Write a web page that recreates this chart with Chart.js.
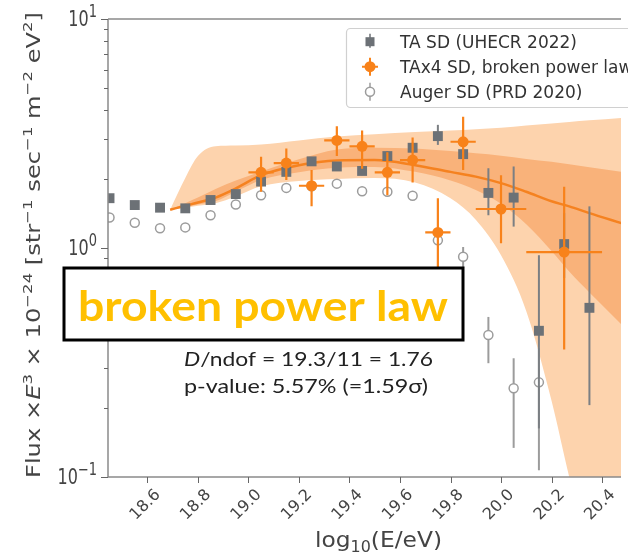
<!DOCTYPE html>
<html>
<head>
<meta charset="utf-8">
<script src="https://cdn.jsdelivr.net/npm/chart.js@4.4.1/dist/chart.umd.min.js"></script>
<style>
  html, body { margin: 0; padding: 0; background: #fff; }
</style>
</head>
<body>
<canvas id="chartFlux" width="628" height="560"></canvas>
<script>
// axis ticks
const xTicks = [18.6, 18.8, 19.0, 19.2, 19.4, 19.6, 19.8, 20.0, 20.2, 20.4]
const yTicks = [0.1, 1, 10]
const yTickExp = ['\u22121', '0', '1']

// TA SD (UHECR 2022)
const taE = [18.45, 18.55, 18.65, 18.75, 18.85, 18.95, 19.05, 19.15, 19.25, 19.35, 19.45, 19.55, 19.65, 19.75, 19.85, 19.95, 20.05, 20.15, 20.25, 20.35]
const taFlux = [1.65, 1.54, 1.50, 1.49, 1.62, 1.72, 1.95, 2.15, 2.39, 2.27, 2.17, 2.52, 2.74, 3.08, 2.57, 1.74, 1.66, 0.435, 1.04, 0.548]
const taLow = [1.62, 1.51, 1.47, 1.46, 1.59, 1.68, 1.90, 2.09, 2.32, 2.19, 2.08, 2.40, 2.60, 2.82, 2.45, 1.39, 1.24, 0.163, 0.74, 0.206]
const taHigh = [1.68, 1.57, 1.53, 1.52, 1.65, 1.76, 2.00, 2.21, 2.46, 2.35, 2.26, 2.64, 2.88, 3.45, 2.70, 2.23, 2.27, 0.93, 1.42, 1.52]

// TAx4 SD
const tax4E = [19.05, 19.15, 19.25, 19.35, 19.45, 19.55, 19.65, 19.75, 19.85, 20.0, 20.25]
const tax4HalfBin = [0.05, 0.05, 0.05, 0.05, 0.05, 0.05, 0.05, 0.05, 0.05, 0.1, 0.15]
const tax4Flux = [2.14, 2.35, 1.87, 2.95, 2.78, 2.14, 2.42, 1.17, 2.91, 1.48, 0.96]
const tax4Low = [1.76, 1.98, 1.52, 2.52, 2.22, 1.70, 1.93, 0.50, 2.19, 1.05, 0.36]
const tax4High = [2.50, 2.72, 2.19, 3.40, 3.26, 2.62, 3.04, 1.65, 3.74, 2.08, 1.85]

// Auger SD (PRD 2020)
const augerE = [18.45, 18.55, 18.65, 18.75, 18.85, 18.95, 19.05, 19.15, 19.25, 19.35, 19.45, 19.55, 19.65, 19.75, 19.85, 19.95, 20.05, 20.15]
const augerFlux = [1.36, 1.29, 1.22, 1.23, 1.39, 1.55, 1.70, 1.83, 1.86, 1.91, 1.77, 1.76, 1.69, 1.08, 0.916, 0.417, 0.244, 0.259]
const augerLow = [1.34, 1.27, 1.20, 1.21, 1.37, 1.53, 1.67, 1.80, 1.82, 1.87, 1.73, 1.71, 1.64, 1.03, 0.818, 0.314, 0.134, 0.107]
const augerHigh = [1.38, 1.31, 1.24, 1.25, 1.41, 1.57, 1.73, 1.86, 1.90, 1.95, 1.81, 1.81, 1.74, 1.13, 1.01, 0.50, 0.33, 0.365]

// broken power law fit with its two uncertainty bands
const fitE = [18.69, 18.75, 18.8, 18.87, 18.95, 19.05, 19.2, 19.35, 19.5, 19.66, 19.8, 19.9, 20.0, 20.1, 20.2, 20.27, 20.35, 20.48]
const fitFlux = [1.47, 1.53, 1.58, 1.66, 1.82, 2.08, 2.30, 2.41, 2.42, 2.30, 2.15, 2.05, 1.92, 1.76, 1.60, 1.52, 1.42, 1.28]
const innerUpper = [1.47, 1.57, 1.66, 1.81, 1.97, 2.16, 2.44, 2.69, 2.74, 2.72, 2.65, 2.59, 2.53, 2.45, 2.38, 2.32, 2.25, 2.15]
const innerLower = [1.47, 1.51, 1.55, 1.60, 1.76, 1.98, 2.14, 2.24, 2.26, 2.15, 1.97, 1.79, 1.56, 1.27, 0.97, 0.79, 0.64, 0.46]
const outerUpper = [1.47, 2.02, 2.52, 2.78, 2.80, 2.83, 2.95, 3.07, 3.14, 3.21, 3.26, 3.30, 3.35, 3.43, 3.50, 3.55, 3.61, 3.70]
const outerLower = [1.47, 1.50, 1.53, 1.57, 1.68, 1.86, 1.96, 2.00, 2.02, 1.93, 1.65, 1.33, 0.93, 0.53, 0.215, 0.10, 0.045, 0.02]

const legendLabels = ['TA SD (UHECR 2022)', 'TAx4 SD, broken power law', 'Auger SD (PRD 2020)']

const ORANGE = '#f8821a'
const TA_GRAY = '#6c7176'
const AUGER_GRAY = '#9c9c9c'
const AXIS_GRAY = '#8a8a8a'
const TEXT_GRAY = '#444'

const toPoints = (xs, ys) => xs.map((x, i) => ({ x, y: ys[i] }))

const bandLine = (ys, fill, color, order) => ({
    type: 'line',
    data: toPoints(fitE, ys),
    borderWidth: 0,
    pointRadius: 0,
    fill,
    backgroundColor: color,
    cubicInterpolationMode: 'monotone',
    order
})

// pieces: [text, font, rise]
const runWidth = (ctx, pieces) => pieces.reduce((w, [t, font]) => {
    ctx.font = font
    return w + ctx.measureText(t).width
}, 0)

const drawRun = (ctx, pieces, x, y) => {
    pieces.forEach(([t, font, rise]) => {
        ctx.font = font
        ctx.fillText(t, x, y - (rise || 0))
        x += ctx.measureText(t).width
    })
}

const errorBars = {
    id: 'errorBars',
    beforeDatasetDraw(chart, args) {
        const ds = chart.data.datasets[args.index]
        if (!ds.errLow) return
        const { x, y } = chart.scales
        const { ctx, chartArea } = chart
        ctx.save()
        ctx.beginPath()
        ctx.rect(chartArea.left, chartArea.top, chartArea.right - chartArea.left, chartArea.bottom - chartArea.top)
        ctx.clip()
        ctx.strokeStyle = ds.errColor
        ctx.lineWidth = ds.errWidth
        ds.data.forEach((p, i) => {
            const px = x.getPixelForValue(p.x)
            const py = y.getPixelForValue(p.y)
            ctx.beginPath()
            ctx.moveTo(px, y.getPixelForValue(ds.errLow[i]))
            ctx.lineTo(px, y.getPixelForValue(ds.errHigh[i]))
            if (ds.errHalf) {
                ctx.moveTo(x.getPixelForValue(p.x - ds.errHalf[i]), py)
                ctx.lineTo(x.getPixelForValue(p.x + ds.errHalf[i]), py)
            }
            ctx.stroke()
        })
        ctx.restore()
    }
}

const decorations = {
    id: 'decorations',
    afterDraw(chart) {
        const { ctx, chartArea } = chart
        const { x, y } = chart.scales
        const font = size => `${size}px "DejaVu Sans"`

        ctx.save()
        // frame
        ctx.strokeStyle = AXIS_GRAY
        ctx.lineWidth = 1.5
        ctx.beginPath()
        ctx.moveTo(chartArea.left, chartArea.top)
        ctx.lineTo(chartArea.right, chartArea.top)
        ctx.moveTo(chartArea.left, chartArea.top)
        ctx.lineTo(chartArea.left, chartArea.bottom)
        ctx.lineTo(chartArea.right, chartArea.bottom)
        ctx.stroke()

        // y ticks, major and minor
        ctx.lineWidth = 1
        ctx.strokeStyle = '#666'
        for (let d = 0; d < yTicks.length; d++) {
            const base = yTicks[d]
            const steps = d < yTicks.length - 1 ? 9 : 1
            for (let m = 1; m <= steps; m++) {
                const py = Math.round(y.getPixelForValue(base * m)) + 0.5
                const len = m === 1 ? 7 : 4
                ctx.beginPath()
                ctx.moveTo(chartArea.left - len, py)
                ctx.lineTo(chartArea.left, py)
                ctx.stroke()
            }
        }
        // x ticks
        xTicks.forEach(v => {
            const px = Math.round(x.getPixelForValue(v)) + 0.5
            ctx.beginPath()
            ctx.moveTo(px, chartArea.bottom)
            ctx.lineTo(px, chartArea.bottom + 6)
            ctx.stroke()
        })

        // y tick labels
        ctx.fillStyle = TEXT_GRAY
        ctx.textBaseline = 'alphabetic'
        ctx.textAlign = 'left'
        yTicks.forEach((v, i) => {
            const pieces = [['10', font(16)], [yTickExp[i], font(13), 7]]
            const w = runWidth(ctx, pieces)
            ctx.save()
            ctx.translate(97 - w, y.getPixelForValue(v))
            ctx.scale(1, 1.3)
            drawRun(ctx, pieces, 0, 5.5)
            ctx.restore()
        })

        // x tick labels
        ctx.font = font(16)
        ctx.textAlign = 'center'
        ctx.textBaseline = 'middle'
        xTicks.forEach(v => {
            ctx.save()
            ctx.translate(x.getPixelForValue(v) - 2, 505)
            ctx.rotate(-Math.PI / 4)
            ctx.fillText(v.toFixed(1), 0, 0)
            ctx.restore()
        })

        // axis titles
        ctx.textAlign = 'left'
        ctx.textBaseline = 'alphabetic'
        const xTitle = [['log', font(22)], ['10', font(15), -5], ['(E/eV)', font(22)]]
        const xw = runWidth(ctx, xTitle)
        ctx.save()
        ctx.translate(315, 547)
        ctx.scale(127 / xw, 1)
        drawRun(ctx, xTitle, 0, 0)
        ctx.restore()

        const yTitle = [
            ['Flux \u00D7', font(19)], ['E', 'italic ' + font(19)], ['3', font(13), 8],
            [' \u00D7 10', font(19)], ['\u221224', font(13), 8],
            [' [str', font(19)], ['\u22121', font(13), 8],
            [' sec', font(19)], ['\u22121', font(13), 8],
            [' m', font(19)], ['\u22122', font(13), 8],
            [' eV', font(19)], ['2', font(13), 8], [']', font(19)]
        ]
        const yw = runWidth(ctx, yTitle)
        ctx.save()
        ctx.translate(40, 478)
        ctx.rotate(-Math.PI / 2)
        ctx.scale(466 / yw, 1)
        drawRun(ctx, yTitle, 0, 0)
        ctx.restore()

        // legend
        ctx.fillStyle = 'rgba(255,255,255,0.85)'
        ctx.strokeStyle = '#d0d0d0'
        ctx.lineWidth = 1.2
        ctx.beginPath()
        ctx.roundRect(346.5, 28.5, 300, 79, 4)
        ctx.fill()
        ctx.stroke()
        const rows = [41.7, 66.7, 91.7]
        const mx = 370
        ctx.lineWidth = 1.5
        ctx.strokeStyle = TA_GRAY
        ctx.beginPath(); ctx.moveTo(mx, rows[0] - 8); ctx.lineTo(mx, rows[0] + 6); ctx.stroke()
        ctx.fillStyle = TA_GRAY
        ctx.fillRect(mx - 4.5, rows[0] - 4.5, 9, 9)
        ctx.strokeStyle = ORANGE
        ctx.lineWidth = 2
        ctx.beginPath()
        ctx.moveTo(mx - 8, rows[1]); ctx.lineTo(mx + 8, rows[1])
        ctx.moveTo(mx, rows[1] - 9); ctx.lineTo(mx, rows[1] + 9)
        ctx.stroke()
        ctx.fillStyle = ORANGE
        ctx.beginPath(); ctx.arc(mx, rows[1], 5.5, 0, Math.PI * 2); ctx.fill()
        ctx.strokeStyle = AUGER_GRAY
        ctx.lineWidth = 1.5
        ctx.beginPath(); ctx.moveTo(mx, rows[2] - 9); ctx.lineTo(mx, rows[2] + 9); ctx.stroke()
        ctx.fillStyle = '#fff'
        ctx.beginPath(); ctx.arc(mx, rows[2], 4.5, 0, Math.PI * 2); ctx.fill(); ctx.stroke()
        ctx.fillStyle = '#333'
        ctx.font = font(17)
        legendLabels.forEach((t, i) => ctx.fillText(t, 400, rows[i] + 6))

        // fit quality
        ctx.fillStyle = '#222'
        const statFont = '20px Lato'
        const line1 = [['D', 'italic ' + statFont], ['/ndof = 19.3/11 = 1.76', statFont]]
        const w1 = runWidth(ctx, line1)
        ctx.save()
        ctx.translate(184, 366)
        ctx.scale(249 / w1, 1)
        drawRun(ctx, line1, 0, 0)
        ctx.restore()
        const line2 = [['p-value: 5.57% (=1.59\u03C3)', statFont]]
        const w2 = runWidth(ctx, line2)
        ctx.save()
        ctx.translate(184, 393)
        ctx.scale(244 / w2, 1)
        drawRun(ctx, line2, 0, 0)
        ctx.restore()

        // model label
        ctx.fillStyle = '#fff'
        ctx.fillRect(64, 268, 399, 72)
        ctx.strokeStyle = '#000'
        ctx.lineWidth = 3
        ctx.strokeRect(64, 268, 399, 72)
        ctx.fillStyle = '#ffc000'
        ctx.font = 'bold 42px Lato'
        const bw = ctx.measureText('broken power law').width
        ctx.save()
        ctx.translate(78, 321)
        ctx.scale(370 / bw, 1)
        ctx.fillText('broken power law', 0, 0)
        ctx.restore()

        ctx.restore()
    }
}

const canvas = document.getElementById('chartFlux')
const context = canvas.getContext('2d')

const chartFlux = new Chart(context, {
    type: 'scatter',
    data: {
        datasets: [
            bandLine(outerUpper, '+1', '#fdd3ad', 10),
            bandLine(outerLower, false, 'transparent', 10),
            bandLine(innerUpper, '+1', '#f9b27a', 9),
            bandLine(innerLower, false, 'transparent', 9),
            {
                type: 'line',
                data: toPoints(fitE, fitFlux),
                borderColor: '#f58220',
                borderWidth: 2.5,
                pointRadius: 0,
                fill: false,
                cubicInterpolationMode: 'monotone',
                order: 8
            },
            {
                label: legendLabels[2],
                data: toPoints(augerE, augerFlux),
                pointStyle: 'circle',
                pointRadius: 4.5,
                borderWidth: 1.5,
                borderColor: AUGER_GRAY,
                backgroundColor: '#fff',
                errLow: augerLow,
                errHigh: augerHigh,
                errColor: AUGER_GRAY,
                errWidth: 2,
                order: 7
            },
            {
                label: legendLabels[0],
                data: toPoints(taE, taFlux),
                pointStyle: 'rect',
                pointRadius: 7,
                borderWidth: 0,
                backgroundColor: TA_GRAY,
                errLow: taLow,
                errHigh: taHigh,
                errColor: '#7b7f83',
                errWidth: 2,
                order: 6
            },
            {
                label: legendLabels[1],
                data: toPoints(tax4E, tax4Flux),
                pointStyle: 'circle',
                pointRadius: 5.5,
                borderWidth: 0,
                backgroundColor: ORANGE,
                errLow: tax4Low,
                errHigh: tax4High,
                errHalf: tax4HalfBin,
                errColor: ORANGE,
                errWidth: 2.2,
                order: 5
            }
        ]
    },
    options: {
        responsive: false,
        animation: false,
        layout: { padding: { top: 19, right: 0, bottom: 0, left: 0 } },
        plugins: {
            legend: { display: false },
            tooltip: { enabled: false }
        },
        scales: {
            x: {
                type: 'linear',
                min: 18.444,
                max: 20.475,
                grid: { display: false },
                border: { display: false },
                ticks: { display: false },
                afterFit: scale => { scale.height = 83 }
            },
            y: {
                type: 'logarithmic',
                min: 0.1,
                max: 10,
                grid: { display: false },
                border: { display: false },
                ticks: { display: false },
                afterFit: scale => { scale.width = 108 }
            }
        }
    },
    plugins: [errorBars, decorations]
})
</script>
</body>
</html>
